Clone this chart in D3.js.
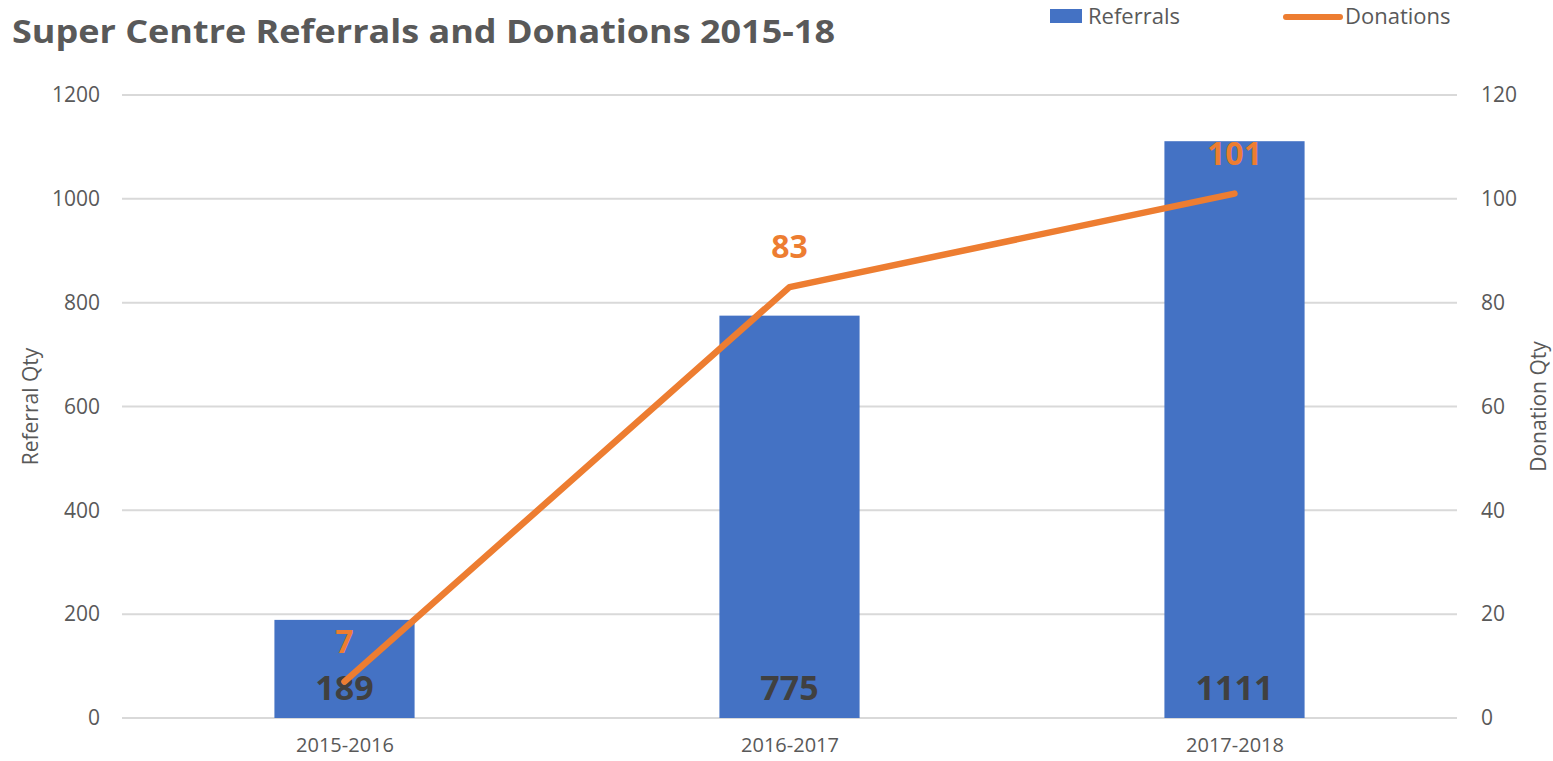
<!DOCTYPE html>
<html>
<head>
<meta charset="utf-8">
<script src="https://cdn.jsdelivr.net/npm/d3@7"></script>
<style>
  body { margin: 0; background: #fff; }
  text { font-family: "Open Sans", "Noto Sans", sans-serif; }
</style>
</head>
<body>
<div id="chart"></div>
<script>
// chart data
var years = ["2015-2016", "2016-2017", "2017-2018"];
var referrals = [189, 775, 1111];
var donations = [7, 83, 101];
var leftTicks = [0, 200, 400, 600, 800, 1000, 1200];
var rightTicks = [0, 20, 40, 60, 80, 100, 120];

var W = 1553, H = 761;
var margin = {top: 95, right: 96, bottom: 43, left: 122};
var width = W - margin.left - margin.right,
    height = H - margin.top - margin.bottom;

var blue = "#4472C4", orange = "#ED7D31", grey = "#595959";

var svg = d3.select("#chart").append("svg")
  .attr("width", W)
  .attr("height", H);

var g = svg.append("g")
  .attr("transform", "translate(" + margin.left + "," + margin.top + ")");

var x = d3.scaleBand().domain(years).range([0, width]).paddingInner(0.685).paddingOuter(0.3425);
var xc = d3.scalePoint().domain(years).range([0, width]).padding(0.5);
var yL = d3.scaleLinear().domain([0, 1200]).range([height, 0]);
var yR = d3.scaleLinear().domain([0, 120]).range([height, 0]);

// gridlines
g.selectAll("line.grid")
  .data(leftTicks)
  .enter().append("line")
  .attr("class", "grid")
  .attr("x1", 0).attr("x2", width)
  .attr("y1", function(d) { return yL(d); })
  .attr("y2", function(d) { return yL(d); })
  .attr("stroke", "#d9d9d9")
  .attr("stroke-width", 2);

// left axis
var leftAxis = g.append("g")
  .call(d3.axisLeft(yL).tickValues(leftTicks).tickFormat(d3.format("d")).tickSize(0).tickPadding(22));
leftAxis.select(".domain").remove();
leftAxis.selectAll("text").attr("font-size", 21).attr("fill", grey)
  .style("font-family", "'Open Sans', sans-serif");

// right axis
var rightAxis = g.append("g")
  .attr("transform", "translate(" + width + ",0)")
  .call(d3.axisRight(yR).tickValues(rightTicks).tickSize(0).tickPadding(24));
rightAxis.select(".domain").remove();
rightAxis.selectAll("text").attr("font-size", 21).attr("fill", grey)
  .style("font-family", "'Open Sans', sans-serif");

// bottom axis
var bottomAxis = g.append("g")
  .attr("transform", "translate(0," + height + ")")
  .call(d3.axisBottom(xc).tickSize(0).tickPadding(20));
bottomAxis.select(".domain").remove();
bottomAxis.selectAll("text").attr("font-size", 20).attr("fill", grey)
  .style("font-family", "'Open Sans', sans-serif");

// bars
g.selectAll("rect.bar")
  .data(referrals)
  .enter().append("rect")
  .attr("class", "bar")
  .attr("x", function(d, i) { return x(years[i]); })
  .attr("width", x.bandwidth())
  .attr("y", function(d) { return yL(d); })
  .attr("height", function(d) { return height - yL(d); })
  .attr("fill", blue);

// bar labels
g.selectAll("text.blabel")
  .data(referrals)
  .enter().append("text")
  .attr("class", "blabel")
  .attr("x", function(d, i) { return xc(years[i]); })
  .attr("y", height - 18)
  .attr("text-anchor", "middle")
  .attr("font-size", 34)
  .attr("font-weight", "bold")
  .attr("fill", "#404040")
  .text(function(d) { return d; });

// donations line
var line = d3.line()
  .x(function(d, i) { return xc(years[i]); })
  .y(function(d) { return yR(d); });

g.append("path")
  .datum(donations)
  .attr("d", line)
  .attr("fill", "none")
  .attr("stroke", orange)
  .attr("stroke-width", 6.5)
  .attr("stroke-linecap", "round")
  .attr("stroke-linejoin", "round");

// donation labels
g.selectAll("text.dlabel")
  .data(donations)
  .enter().append("text")
  .attr("class", "dlabel")
  .attr("x", function(d, i) { return xc(years[i]); })
  .attr("y", function(d) { return yR(d) - 29; })
  .attr("text-anchor", "middle")
  .attr("font-size", 32)
  .attr("font-weight", "bold")
  .attr("fill", orange)
  .text(function(d) { return d; });

// axis titles
svg.append("text")
  .attr("transform", "translate(38," + (margin.top + height / 2) + ") rotate(-90)")
  .attr("text-anchor", "middle")
  .attr("font-size", 21)
  .attr("fill", grey)
  .text("Referral Qty");

svg.append("text")
  .attr("transform", "translate(1546," + (margin.top + height / 2) + ") rotate(-90)")
  .attr("text-anchor", "middle")
  .attr("font-size", 21)
  .attr("fill", grey)
  .text("Donation Qty");

// title
svg.append("text")
  .attr("x", 12)
  .attr("y", 43)
  .attr("font-size", 33)
  .attr("font-weight", "bold")
  .attr("fill", grey)
  .attr("textLength", 823)
  .attr("lengthAdjust", "spacingAndGlyphs")
  .text("Super Centre Referrals and Donations 2015-18");

// legend
var legend = svg.append("g");
legend.append("rect")
  .attr("x", 1050).attr("y", 9)
  .attr("width", 32).attr("height", 14)
  .attr("fill", blue);
legend.append("text")
  .attr("x", 1088).attr("y", 24)
  .attr("font-size", 22).attr("fill", grey)
  .text("Referrals");
legend.append("line")
  .attr("x1", 1286).attr("x2", 1340)
  .attr("y1", 17).attr("y2", 17)
  .attr("stroke", orange).attr("stroke-width", 6)
  .attr("stroke-linecap", "round");
legend.append("text")
  .attr("x", 1345).attr("y", 24)
  .attr("font-size", 22).attr("fill", grey)
  .text("Donations");
</script>
</body>
</html>
